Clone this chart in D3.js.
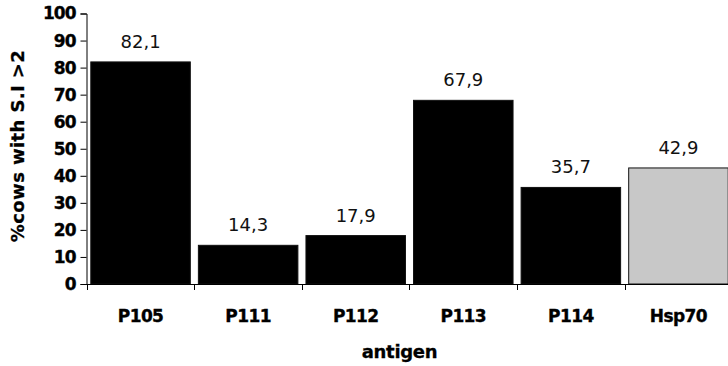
<!DOCTYPE html>
<html><head><meta charset="utf-8">
<script src="https://cdn.jsdelivr.net/npm/d3@7"></script>
<style>body{margin:0;background:#fff}svg{display:block}</style>
</head><body>
<svg id="c" width="728" height="366"></svg>
<script>
const categories = ["P105","P111","P112","P113","P114","Hsp70"];
const values = [82.1, 14.3, 17.9, 67.9, 35.7, 42.9];
const valueLabels = ["82,1","14,3","17,9","67,9","35,7","42,9"];
const barColors = ["#000000","#000000","#000000","#000000","#000000","#c8c8c8"];
const yTicks = [0,10,20,30,40,50,60,70,80,90,100];

const svg = d3.select("#c");
const x0 = 86.5, x1 = 732.5, yBottom = 284, yTop = 13.5;
const x = d3.scaleBand().domain(categories).range([x0, x1]).paddingInner(0.075).paddingOuter(0.04);
const y = d3.scaleLinear().domain([0,100]).range([yBottom, yTop]);
const FONT = "DejaVu Sans, Verdana, sans-serif";

// bars
svg.selectAll("rect.bar").data(values).join("rect")
  .attr("class","bar")
  .attr("x",(d,i)=>x(categories[i]))
  .attr("width",x.bandwidth())
  .attr("y",d=>y(d))
  .attr("height",d=>yBottom-y(d))
  .attr("fill",(d,i)=>barColors[i])
  .attr("stroke","#111").attr("stroke-width",1);

// value labels
svg.selectAll("text.val").data(values).join("text")
  .attr("class","val")
  .attr("x",(d,i)=>x(categories[i])+x.bandwidth()/2)
  .attr("y",d=>y(d)-14)
  .attr("text-anchor","middle")
  .attr("font-family",FONT)
  .attr("font-size",18).attr("fill","#111")
  .text((d,i)=>valueLabels[i]);

// y axis
const yAxis = d3.axisLeft(y).tickValues(yTicks).tickSize(6).tickPadding(5).tickFormat(d3.format("d"));
const gy = svg.append("g").attr("transform",`translate(${x0},0)`).call(yAxis);
gy.select(".domain").attr("stroke","#000");
gy.selectAll(".tick line").attr("stroke","#000");
gy.selectAll(".tick text").attr("font-family",FONT)
  .attr("font-weight","bold").attr("font-size",17).attr("letter-spacing","-1px").attr("fill","#000")
  .attr("stroke","#000").attr("stroke-width",0.35);

// x axis
const xAxis = d3.axisBottom(x).tickSize(0).tickPadding(26);
const gx = svg.append("g").attr("transform",`translate(0,${yBottom})`).call(xAxis);
gx.select(".domain").attr("stroke","#000").attr("d",`M${x0},0.5H${x1}`);
gx.selectAll(".tick text").attr("font-family",FONT)
  .attr("font-weight","bold").attr("font-size",17).attr("letter-spacing","-0.6px").attr("fill","#000")
  .attr("stroke","#000").attr("stroke-width",0.35);
// category boundary ticks
const step = x.step();
const bounds = categories.map((c,i)=>x(c) - (x.paddingInner()*step)/2);
svg.append("g").selectAll("line").data(bounds).join("line")
  .attr("x1",d=>Math.round(d)+0.5).attr("x2",d=>Math.round(d)+0.5)
  .attr("y1",yBottom).attr("y2",yBottom+6).attr("stroke","#000");

// axis titles
svg.append("text").attr("x",(x0+x1)/2 - 10).attr("y",358).attr("text-anchor","middle")
  .attr("font-family",FONT).attr("font-weight","bold")
  .attr("font-size",18).attr("letter-spacing","-0.3px")
  .attr("stroke","#000").attr("stroke-width",0.3).text("antigen");
svg.append("text").attr("transform","translate(24,146) rotate(-90)").attr("text-anchor","middle")
  .attr("font-family",FONT).attr("font-weight","bold")
  .attr("font-size",18).attr("letter-spacing","0.4px")
  .attr("stroke","#000").attr("stroke-width",0.3).text("%cows with S.I >2");
</script>
</body></html>
